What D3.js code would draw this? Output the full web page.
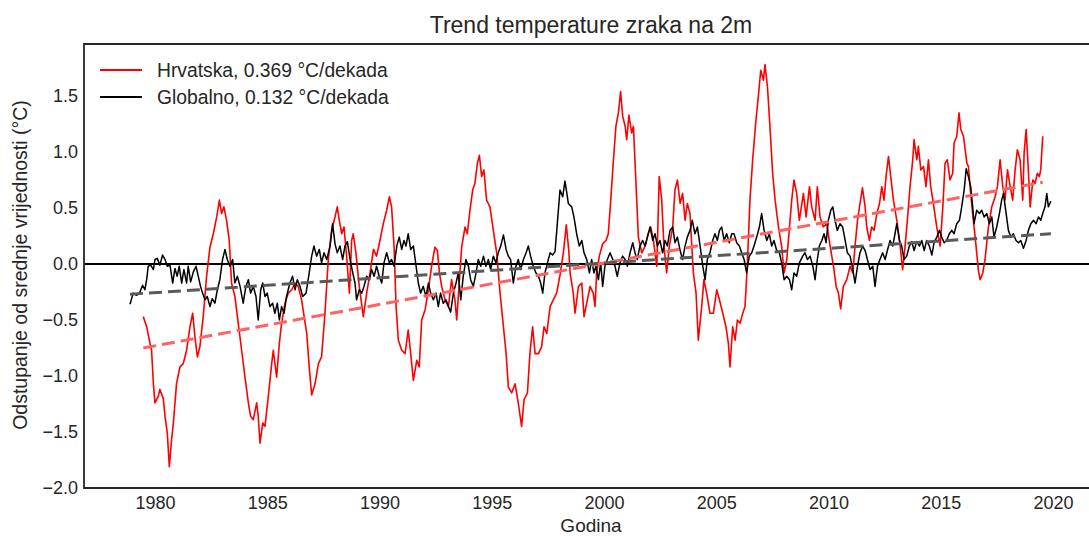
<!DOCTYPE html>
<html>
<head>
<meta charset="utf-8">
<script src="https://cdn.jsdelivr.net/npm/d3@7"></script>
<style>
  html, body { margin: 0; padding: 0; background: #fff; }
  svg text { font-family: "Liberation Sans", Arial, sans-serif; fill: #262626; }
</style>
</head>
<body>
<svg id="chart" width="1089" height="536"></svg>
<script>
// ---------- DATA ----------
const titleText = "Trend temperature zraka na 2m";
const xLabelText = "Godina";
const yLabelText = "Odstupanje od srednje vrijednosti (°C)";
const seriesNames = ["Hrvatska, 0.369 °C/dekada", "Globalno, 0.132 °C/dekada"];
const xTicks = [1980, 1985, 1990, 1995, 2000, 2005, 2010, 2015, 2020];
const yTicks = [-2.0, -1.5, -1.0, -0.5, 0.0, 0.5, 1.0, 1.5];

// Croatia: [year, anomaly °C]
const hrvatska = [
[1979.48,-0.47],[1979.63,-0.56],[1979.78,-0.71],[1979.85,-0.77],[1979.93,-1.07],[1980.00,-1.24],
[1980.15,-1.18],[1980.22,-1.12],[1980.37,-1.20],[1980.45,-1.36],[1980.55,-1.51],[1980.64,-1.81],
[1980.74,-1.57],[1980.82,-1.42],[1980.96,-1.07],[1981.11,-0.92],[1981.26,-0.89],[1981.41,-0.77],
[1981.56,-0.56],[1981.68,-0.44],[1981.78,-0.65],[1981.89,-0.83],[1982.00,-0.74],[1982.15,-0.47],
[1982.30,-0.11],[1982.45,0.15],[1982.60,0.27],[1982.75,0.42],[1982.87,0.57],[1982.97,0.45],
[1983.07,0.51],[1983.19,0.39],[1983.31,0.21],[1983.41,-0.17],[1983.56,-0.29],[1983.71,-0.53],
[1983.86,-0.77],[1984.01,-1.01],[1984.16,-1.24],[1984.26,-1.36],[1984.38,-1.39],[1984.53,-1.24],
[1984.60,-1.36],[1984.68,-1.60],[1984.80,-1.42],[1984.90,-1.45],[1985.05,-1.18],[1985.20,-0.89],
[1985.27,-0.77],[1985.42,-1.01],[1985.54,-0.71],[1985.64,-0.53],[1985.79,-0.35],[1985.94,-0.26],
[1986.09,-0.23],[1986.24,-0.17],[1986.38,-0.20],[1986.53,-0.32],[1986.76,-0.62],[1986.87,-0.92],
[1986.98,-1.17],[1987.13,-1.07],[1987.28,-0.89],[1987.42,-0.83],[1987.57,-0.45],[1987.72,0.04],
[1987.87,0.30],[1988.02,0.42],[1988.12,0.51],[1988.21,0.39],[1988.32,0.27],[1988.42,0.33],
[1988.54,0.06],[1988.66,-0.26],[1988.76,0.21],[1988.83,0.27],[1988.95,0.10],[1989.10,-0.20],
[1989.28,-0.47],[1989.43,-0.26],[1989.58,-0.08],[1989.73,0.13],[1989.87,0.07],[1990.02,0.21],
[1990.17,0.36],[1990.32,0.48],[1990.44,0.60],[1990.54,0.51],[1990.65,0.15],[1990.74,-0.38],
[1990.84,-0.68],[1990.99,-0.77],[1991.14,-0.80],[1991.28,-0.59],[1991.39,-0.80],[1991.51,-1.04],
[1991.66,-0.86],[1991.77,-0.92],[1991.88,-0.50],[1992.03,-0.41],[1992.18,-0.23],[1992.32,-0.02],
[1992.47,0.15],[1992.58,0.12],[1992.67,-0.08],[1992.77,-0.20],[1992.92,-0.32],[1993.07,-0.38],
[1993.21,-0.14],[1993.36,-0.32],[1993.44,-0.50],[1993.56,-0.14],[1993.66,0.15],[1993.81,0.33],
[1993.91,0.27],[1994.03,0.48],[1994.15,0.66],[1994.25,0.72],[1994.36,0.90],[1994.45,0.97],
[1994.55,0.78],[1994.65,0.84],[1994.77,0.57],[1994.92,0.51],[1995.07,0.30],[1995.22,0.10],
[1995.37,-0.26],[1995.49,-0.50],[1995.64,-0.80],[1995.74,-1.10],[1995.89,-1.15],[1996.04,-1.07],
[1996.18,-1.24],[1996.33,-1.45],[1996.44,-1.21],[1996.59,-1.15],[1996.70,-0.80],[1996.82,-0.56],
[1996.93,-0.80],[1997.08,-0.80],[1997.22,-0.74],[1997.33,-0.56],[1997.45,-0.62],[1997.60,-0.38],
[1997.74,-0.32],[1997.89,-0.26],[1998.04,-0.10],[1998.19,0.10],[1998.32,0.35],[1998.43,0.12],
[1998.49,-0.08],[1998.63,-0.26],[1998.71,-0.44],[1998.86,-0.20],[1999.01,-0.17],[1999.11,-0.47],
[1999.23,-0.35],[1999.38,-0.20],[1999.52,-0.26],[1999.60,-0.38],[1999.67,-0.08],[1999.79,0.07],
[1999.94,0.18],[2000.09,0.21],[2000.19,0.27],[2000.30,0.57],[2000.42,0.93],[2000.53,1.23],
[2000.64,1.35],[2000.74,1.54],[2000.83,1.32],[2000.94,1.23],[2001.01,1.11],[2001.11,1.33],
[2001.23,1.17],[2001.31,1.23],[2001.43,0.69],[2001.53,0.24],[2001.68,0.10],[2001.83,0.16],
[2001.97,0.27],[2002.08,0.33],[2002.20,0.21],[2002.35,-0.02],[2002.46,0.78],[2002.57,0.57],
[2002.67,0.16],[2002.79,-0.08],[2002.91,0.16],[2003.06,0.33],[2003.16,0.66],[2003.27,0.75],
[2003.39,0.54],[2003.50,0.63],[2003.61,0.39],[2003.71,0.54],[2003.83,0.45],[2003.91,0.16],
[2003.98,-0.08],[2004.10,-0.26],[2004.20,-0.68],[2004.35,-0.38],[2004.45,-0.14],[2004.57,-0.26],
[2004.72,-0.44],[2004.87,-0.44],[2005.02,-0.23],[2005.14,-0.32],[2005.29,-0.44],[2005.43,-0.56],
[2005.54,-0.71],[2005.61,-0.92],[2005.73,-0.56],[2005.84,-0.68],[2005.94,-0.50],[2006.06,-0.53],
[2006.18,-0.44],[2006.28,-0.38],[2006.38,-0.02],[2006.50,0.57],[2006.62,0.93],[2006.77,1.29],
[2006.87,1.49],[2006.98,1.73],[2007.10,1.64],[2007.17,1.78],[2007.28,1.58],[2007.39,1.23],
[2007.51,0.81],[2007.62,0.57],[2007.77,0.33],[2007.91,0.16],[2008.02,-0.08],[2008.14,0.04],
[2008.26,0.33],[2008.36,0.57],[2008.46,0.75],[2008.58,0.63],[2008.70,0.39],[2008.88,0.63],
[2009.00,0.42],[2009.15,0.69],[2009.25,0.51],[2009.40,0.39],[2009.50,0.69],[2009.62,0.42],
[2009.77,0.33],[2009.92,0.36],[2010.07,0.16],[2010.22,-0.02],[2010.34,-0.20],[2010.44,-0.26],
[2010.54,-0.40],[2010.66,-0.20],[2010.81,-0.14],[2010.96,-0.02],[2011.08,-0.08],[2011.18,0.16],
[2011.29,0.39],[2011.40,0.54],[2011.51,0.68],[2011.63,0.51],[2011.70,0.33],[2011.82,0.21],
[2011.92,0.33],[2012.03,0.30],[2012.15,0.45],[2012.27,0.54],[2012.37,0.69],[2012.47,0.57],
[2012.56,0.78],[2012.67,0.96],[2012.77,0.78],[2012.89,0.57],[2013.04,0.39],[2013.19,0.16],
[2013.30,-0.05],[2013.41,0.16],[2013.51,0.39],[2013.63,0.69],[2013.75,0.93],[2013.81,1.11],
[2013.93,0.93],[2014.00,1.05],[2014.11,0.84],[2014.23,0.87],[2014.34,0.69],[2014.45,0.93],
[2014.55,0.69],[2014.67,0.54],[2014.82,0.33],[2014.97,0.16],[2015.09,0.51],[2015.19,0.90],
[2015.29,0.93],[2015.41,0.75],[2015.53,0.81],[2015.59,1.08],[2015.71,1.14],[2015.81,1.35],
[2015.89,1.20],[2016.01,1.14],[2016.16,0.90],[2016.23,0.87],[2016.33,0.63],[2016.45,0.39],
[2016.57,0.16],[2016.67,-0.05],[2016.75,-0.14],[2016.87,-0.08],[2016.97,0.04],[2017.12,0.33],
[2017.27,0.51],[2017.42,0.60],[2017.52,0.69],[2017.64,0.93],[2017.76,0.69],[2017.86,0.57],
[2017.97,0.84],[2018.09,0.69],[2018.20,0.57],[2018.31,0.84],[2018.41,1.02],[2018.53,0.93],
[2018.65,0.57],[2018.71,0.99],[2018.80,1.20],[2018.89,0.87],[2018.98,0.51],[2019.10,0.75],
[2019.20,0.72],[2019.30,0.81],[2019.39,0.78],[2019.45,0.84],[2019.54,1.14]
];

// Global: [year, anomaly °C]
const globalno = [
[1978.89,-0.36],[1979.03,-0.26],[1979.18,-0.28],[1979.33,-0.25],[1979.45,-0.19],[1979.55,-0.23],
[1979.63,-0.14],[1979.70,-0.02],[1979.81,-0.01],[1979.93,-0.05],[1980.00,0.04],[1980.10,0.05],
[1980.22,-0.01],[1980.34,0.08],[1980.45,0.04],[1980.55,-0.02],[1980.67,-0.01],[1980.79,-0.17],
[1980.89,-0.04],[1980.99,-0.11],[1981.08,-0.02],[1981.19,-0.17],[1981.29,-0.05],[1981.41,-0.17],
[1981.48,-0.02],[1981.59,-0.16],[1981.71,-0.07],[1981.83,-0.02],[1981.93,-0.11],[1982.03,-0.20],
[1982.12,-0.26],[1982.23,-0.32],[1982.33,-0.29],[1982.45,-0.38],[1982.55,-0.31],[1982.67,-0.35],
[1982.78,-0.23],[1982.89,-0.14],[1983.01,0.04],[1983.12,0.13],[1983.22,0.04],[1983.34,-0.02],
[1983.46,0.04],[1983.56,-0.17],[1983.67,-0.11],[1983.79,-0.20],[1983.93,-0.35],[1984.05,-0.20],
[1984.16,-0.14],[1984.26,-0.26],[1984.38,-0.20],[1984.50,-0.29],[1984.60,-0.50],[1984.71,-0.23],
[1984.80,-0.17],[1984.90,-0.29],[1985.00,-0.26],[1985.12,-0.38],[1985.24,-0.35],[1985.34,-0.44],
[1985.45,-0.35],[1985.54,-0.50],[1985.64,-0.38],[1985.75,-0.44],[1985.86,-0.29],[1986.01,-0.17],
[1986.13,-0.11],[1986.24,-0.23],[1986.34,-0.14],[1986.46,-0.20],[1986.58,-0.29],[1986.73,-0.26],
[1986.87,-0.08],[1986.98,0.07],[1987.08,0.16],[1987.20,0.07],[1987.32,0.13],[1987.42,0.01],
[1987.53,0.10],[1987.65,0.04],[1987.80,0.16],[1987.91,0.36],[1988.02,0.18],[1988.12,0.10],
[1988.24,0.16],[1988.36,0.04],[1988.46,0.16],[1988.57,0.20],[1988.69,0.04],[1988.81,-0.08],
[1988.91,-0.17],[1988.98,-0.32],[1989.10,-0.23],[1989.21,-0.26],[1989.31,-0.20],[1989.43,-0.11],
[1989.55,-0.14],[1989.65,-0.05],[1989.76,-0.11],[1989.87,-0.02],[1989.99,-0.11],[1990.10,-0.17],
[1990.20,0.01],[1990.32,0.10],[1990.44,0.01],[1990.54,0.04],[1990.65,-0.02],[1990.77,0.16],
[1990.88,0.24],[1990.99,0.13],[1991.09,0.21],[1991.18,0.16],[1991.28,0.27],[1991.39,0.13],
[1991.51,0.16],[1991.63,-0.02],[1991.73,-0.17],[1991.83,-0.26],[1991.95,-0.20],[1992.07,-0.29],
[1992.18,-0.17],[1992.28,-0.26],[1992.40,-0.32],[1992.52,-0.26],[1992.62,-0.38],[1992.72,-0.26],
[1992.84,-0.35],[1992.96,-0.32],[1993.07,-0.38],[1993.17,-0.43],[1993.29,-0.26],[1993.41,-0.17],
[1993.51,-0.08],[1993.62,-0.32],[1993.73,-0.11],[1993.85,0.04],[1993.96,-0.02],[1994.06,-0.14],
[1994.18,-0.20],[1994.30,-0.08],[1994.40,0.04],[1994.51,-0.02],[1994.63,0.07],[1994.74,-0.02],
[1994.85,0.04],[1994.95,-0.05],[1995.07,0.07],[1995.19,0.01],[1995.29,0.10],[1995.40,0.16],
[1995.52,0.26],[1995.64,0.13],[1995.74,0.07],[1995.84,0.04],[1995.96,-0.17],[1996.08,-0.02],
[1996.18,0.04],[1996.29,-0.05],[1996.41,0.04],[1996.53,0.10],[1996.63,0.16],[1996.73,0.07],
[1996.85,-0.02],[1996.97,-0.08],[1997.08,-0.11],[1997.18,-0.17],[1997.27,-0.26],[1997.37,-0.08],
[1997.48,0.01],[1997.60,0.10],[1997.71,0.08],[1997.82,0.11],[1997.92,0.36],[1998.04,0.66],
[1998.16,0.60],[1998.26,0.74],[1998.37,0.60],[1998.41,0.54],[1998.56,0.51],[1998.66,0.42],
[1998.78,0.27],[1998.90,0.16],[1999.01,0.21],[1999.11,0.10],[1999.23,0.04],[1999.35,-0.08],
[1999.45,0.04],[1999.55,-0.08],[1999.64,-0.02],[1999.75,-0.14],[1999.85,0.01],[1999.94,-0.20],
[2000.04,-0.02],[2000.15,0.04],[2000.27,0.10],[2000.39,0.04],[2000.49,-0.02],[2000.59,-0.11],
[2000.71,0.01],[2000.83,0.07],[2000.94,0.04],[2001.04,-0.02],[2001.16,0.10],[2001.28,0.19],
[2001.38,0.10],[2001.48,0.04],[2001.60,0.16],[2001.72,0.21],[2001.83,0.16],[2001.93,0.24],
[2002.05,0.33],[2002.17,0.21],[2002.27,0.27],[2002.38,0.16],[2002.49,0.21],[2002.61,0.10],
[2002.72,0.21],[2002.82,0.16],[2002.94,0.30],[2003.06,0.33],[2003.16,0.19],[2003.27,0.24],
[2003.39,0.12],[2003.50,0.04],[2003.61,0.16],[2003.71,0.24],[2003.83,0.30],[2003.93,0.39],
[2004.05,0.27],[2004.16,0.33],[2004.28,0.16],[2004.40,-0.02],[2004.50,-0.14],[2004.60,0.04],
[2004.72,0.10],[2004.84,0.21],[2004.94,0.27],[2005.05,0.21],[2005.14,0.30],[2005.24,0.33],
[2005.35,0.21],[2005.46,0.27],[2005.58,0.19],[2005.69,0.27],[2005.79,0.27],[2005.91,0.19],
[2006.03,0.16],[2006.13,0.10],[2006.24,0.04],[2006.35,-0.08],[2006.47,0.07],[2006.58,0.10],
[2006.68,0.16],[2006.80,0.24],[2006.92,0.33],[2007.02,0.45],[2007.13,0.30],[2007.25,0.21],
[2007.36,0.27],[2007.47,0.16],[2007.57,0.21],[2007.69,0.12],[2007.81,0.10],[2007.91,0.01],
[2008.02,-0.14],[2008.14,-0.11],[2008.26,-0.14],[2008.36,-0.23],[2008.46,-0.08],[2008.58,-0.11],
[2008.70,0.01],[2008.85,0.07],[2008.95,0.10],[2009.06,0.04],[2009.18,0.07],[2009.30,-0.02],
[2009.40,-0.14],[2009.50,0.04],[2009.59,0.16],[2009.70,0.21],[2009.80,0.27],[2009.89,0.19],
[2009.99,0.39],[2010.10,0.48],[2010.19,0.51],[2010.29,0.39],[2010.39,0.30],[2010.51,0.36],
[2010.63,0.33],[2010.74,0.21],[2010.84,0.10],[2010.96,0.07],[2011.08,-0.05],[2011.18,-0.17],
[2011.29,-0.02],[2011.40,0.10],[2011.52,0.16],[2011.63,0.12],[2011.73,0.04],[2011.85,-0.05],
[2011.97,-0.02],[2012.07,-0.20],[2012.18,-0.02],[2012.29,0.04],[2012.41,0.10],[2012.52,0.04],
[2012.62,0.12],[2012.74,0.21],[2012.86,0.16],[2012.96,0.27],[2013.04,0.36],[2013.16,0.21],
[2013.26,0.16],[2013.36,0.04],[2013.48,0.07],[2013.60,0.16],[2013.71,0.20],[2013.81,0.12],
[2013.93,0.20],[2014.05,0.16],[2014.15,0.21],[2014.26,0.12],[2014.37,0.21],[2014.49,0.16],
[2014.60,0.08],[2014.70,0.19],[2014.82,0.24],[2014.94,0.30],[2015.04,0.24],[2015.15,0.19],
[2015.26,0.21],[2015.38,0.27],[2015.49,0.30],[2015.59,0.27],[2015.71,0.36],[2015.83,0.39],
[2015.93,0.51],[2016.04,0.66],[2016.13,0.85],[2016.23,0.78],[2016.33,0.69],[2016.42,0.51],
[2016.48,0.36],[2016.60,0.48],[2016.72,0.45],[2016.82,0.48],[2016.93,0.42],[2017.05,0.45],
[2017.16,0.36],[2017.27,0.42],[2017.37,0.24],[2017.49,0.33],[2017.61,0.45],[2017.71,0.57],
[2017.79,0.63],[2017.91,0.45],[2018.01,0.30],[2018.12,0.24],[2018.23,0.27],[2018.35,0.21],
[2018.46,0.19],[2018.56,0.21],[2018.68,0.14],[2018.80,0.21],[2018.90,0.30],[2019.01,0.36],
[2019.13,0.39],[2019.24,0.36],[2019.35,0.42],[2019.45,0.39],[2019.54,0.45],[2019.64,0.51],
[2019.72,0.63],[2019.79,0.51],[2019.90,0.56]
];

// Linear trends: [year, anomaly °C] endpoints
const trendHrvatska = [[1979.48, -0.75], [2019.54, 0.73]];
const trendGlobalno = [[1978.89, -0.27], [2019.90, 0.27]];

// ---------- LAYOUT ----------
const svg = d3.select("#chart");
const W = 1089, H = 536;
const m = { left: 84, right: 0, top: 44, bottom: 48 };
const plotW = W - m.left - m.right;
const plotH = H - m.top - m.bottom;

const x = d3.scaleLinear().domain([1976.84, 2021.6]).range([m.left, m.left + plotW]);
const y = d3.scaleLinear().domain([-2.0, 1.964]).range([m.top + plotH, m.top]);

svg.append("rect").attr("width", W).attr("height", H).attr("fill", "#fff");

svg.append("defs").append("clipPath").attr("id", "clip")
  .append("rect").attr("x", m.left).attr("y", m.top).attr("width", plotW).attr("height", plotH);

const g = svg.append("g").attr("clip-path", "url(#clip)");

const line = d3.line().x(d => x(d[0])).y(d => y(d[1]));

// zero line
g.append("line")
  .attr("x1", m.left).attr("x2", m.left + plotW)
  .attr("y1", y(0)).attr("y2", y(0))
  .attr("stroke", "#000").attr("stroke-width", 2);

// series
g.append("path").datum(hrvatska).attr("d", line)
  .attr("fill", "none").attr("stroke", "#ff0000").attr("stroke-width", 1.6)
  .attr("stroke-linejoin", "round");
g.append("path").datum(globalno).attr("d", line)
  .attr("fill", "none").attr("stroke", "#000000").attr("stroke-width", 1.5)
  .attr("stroke-linejoin", "round");

// trends
g.append("path").datum(trendHrvatska).attr("d", line)
  .attr("fill", "none").attr("stroke", "#ff6262").attr("stroke-width", 3)
  .attr("stroke-dasharray", "13,6");
g.append("path").datum(trendGlobalno).attr("d", line)
  .attr("fill", "none").attr("stroke", "#5a5a5a").attr("stroke-width", 3)
  .attr("stroke-dasharray", "13,6");

// axes
const xAxis = d3.axisBottom(x).tickValues(xTicks).tickSize(0).tickPadding(8)
  .tickFormat(d3.format("d"));
const yAxis = d3.axisLeft(y).tickValues(yTicks).tickSize(0).tickPadding(6)
  .tickFormat(d3.format(".1f"));

const gx = svg.append("g").attr("transform", `translate(0,${m.top + plotH})`).call(xAxis);
const gy = svg.append("g").attr("transform", `translate(${m.left},0)`).call(yAxis);
[gx, gy].forEach(a => {
  a.select(".domain").remove();
  a.selectAll("text").attr("font-size", 18).attr("fill", "#262626")
    .style("font-family", '"Liberation Sans", Arial, sans-serif');
});

// frame
svg.append("path")
  .attr("d", `M${m.left + plotW + 2},${m.top}H${m.left}V${m.top + plotH}H${m.left + plotW + 2}`)
  .attr("fill", "none").attr("stroke", "#262626").attr("stroke-width", 1.8);

// title & labels
svg.append("text").attr("x", 591).attr("y", 33)
  .attr("text-anchor", "middle").attr("font-size", 23).text(titleText);
svg.append("text").attr("x", 591).attr("y", 532)
  .attr("text-anchor", "middle").attr("font-size", 19).text(xLabelText);
svg.append("text")
  .attr("transform", `translate(27,265) rotate(-90)`)
  .attr("text-anchor", "middle").attr("font-size", 19.5).text(yLabelText);

// legend
const legendColors = ["#ff0000", "#000000"];
const legend = svg.append("g");
seriesNames.forEach((name, i) => {
  const ly = 70 + i * 27;
  legend.append("line").attr("x1", 100).attr("x2", 142).attr("y1", ly).attr("y2", ly)
    .attr("stroke", legendColors[i]).attr("stroke-width", 1.8);
  legend.append("text").attr("x", 157).attr("y", ly + 7)
    .attr("font-size", 19.3).text(name);
});
</script>
</body>
</html>
